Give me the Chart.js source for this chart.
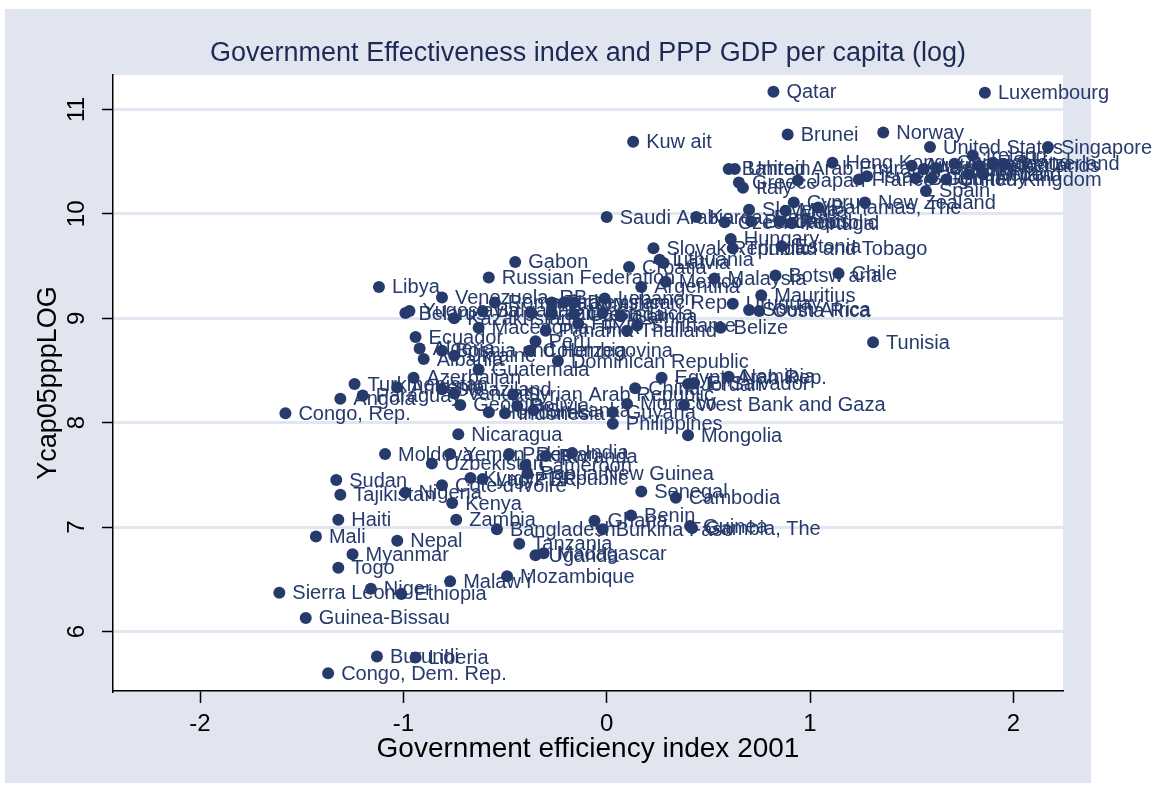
<!doctype html>
<html>
<head>
<title>Government Effectiveness index and PPP GDP per capita</title>
<style>
  html, body { margin: 0; padding: 0; background: #fff; }
</style>
</head>
<body>
<canvas id="myChart" width="1154" height="791"></canvas>
<script src="https://cdn.jsdelivr.net/npm/chart.js"></script>
<script>
// country labels, government efficiency index 2001 (x), log PPP GDP per capita 2005 (y)
const countries = [
  'Qatar', 'Luxembourg', 'Brunei', 'Norway', 'Kuw ait', 'United States', 'Singapore',
  'Hong Kong, China', 'Ireland', 'Canada', 'Iceland', 'Switzerland', 'Netherlands', 'Denmark',
  'Australia', 'Austria', 'Finland', 'Sweden', 'Belgium', 'Germany', 'United Kingdom',
  'France', 'Israel', 'Japan', 'Bahrain', 'United Arab Emirates', 'Greece', 'Italy',
  'Spain', 'Cyprus', 'New Zealand', 'Slovenia', 'Malta', 'Bahamas, The', 'Saudi Arabia',
  'Korea, Rep.', 'Czech Republic', 'Barbados', 'Oman', 'Portugal', 'Hungary', 'Estonia',
  'Slovak Republic', 'Trinidad and Tobago', 'Gabon', 'Croatia', 'Lithuania', 'Latvia',
  'Russian Federation', 'Chile', 'Botsw ana', 'Malaysia', 'Mexico', 'Argentina', 'Libya',
  'Venezuela, RB', 'Mauritius', 'Uruguay', 'South Africa', 'Costa Rica', 'Belize', 'Tunisia',
  'Lebanon', 'Belarus', 'Yugoslavia', 'Kazakhstan', 'Bulgaria', 'Romania', 'Brazil',
  'Turkey', 'Iran, Islamic Rep.', 'Dominica', 'Grenada', 'St. Lucia', 'Samoa', 'Jamaica',
  'Fiji', 'Panama', 'Macedonia, FYR', 'Thailand', 'Suriname', 'Peru', 'Ecuador', 'Algeria',
  'Bosnia and Herzegovina', 'Colombia', 'Albania', 'Ukraine', 'Dominican Republic',
  'Guatemala', 'Azerbaijan', 'Egypt, Arab Rep.', 'Namibia', 'Jordan', 'El Salvador', 'China',
  'Turkmenistan', 'Armenia', 'Sw aziland', 'Vanuatu', 'Syrian Arab Republic', 'Angola',
  'Paraguay', 'Congo, Rep.', 'Georgia', 'Bolivia', 'Sri Lanka', 'Indonesia', 'Honduras',
  'Morocco', 'West Bank and Gaza', 'Guyana', 'Philippines', 'Mongolia', 'Nicaragua',
  'Moldova', 'Yemen, Rep.', 'Pakistan', 'Rw anda', 'India', 'Uzbekistan', 'Cameroon',
  'Papua New Guinea', 'Kyrgyz Republic', 'Lao PDR', "Cote d'Ivoire", 'Nigeria', 'Sudan',
  'Tajikistan', 'Kenya', 'Zambia', 'Haiti', 'Mali', 'Nepal', 'Myanmar', 'Togo',
  'Sierra Leone', 'Niger', 'Ethiopia', 'Guinea-Bissau', 'Burundi', 'Liberia',
  'Congo, Dem. Rep.', 'Malaw i', 'Mozambique', 'Madagascar', 'Uganda', 'Tanzania',
  'Bangladesh', 'Ghana', 'Benin', 'Burkina Faso', 'Guinea', 'Gambia, The', 'Senegal', 'Cambodia'
];

const govEff = [
  0.82, 1.86, 0.89, 1.36, 0.13, 1.59, 2.17,
  1.11, 1.80, 1.71, 1.90, 1.95, 1.83, 1.62,
  1.56, 1.50, 1.85, 1.78, 1.52, 1.60, 1.67,
  1.24, 1.28, 0.94, 0.60, 0.63, 0.65, 0.67,
  1.57, 0.92, 1.27, 0.70, 0.88, 1.04, 0.00,
  0.44, 0.58, 0.71, 0.85, 0.91, 0.61, 0.86,
  0.23, 0.62, -0.45, 0.11, 0.26, 0.28,
  -0.58, 1.14, 0.83, 0.53, 0.29, 0.17, -1.12,
  -0.81, 0.76, 0.62, 0.70, 0.75, 0.56, 1.31,
  -0.01, -0.99, -0.97, -0.75, -0.61, -0.55, -0.37,
  -0.27, -0.21, -0.16, -0.16, -0.02, 0.07, -0.27,
  -0.14, -0.30, -0.63, 0.10, 0.15, -0.35, -0.94, -0.92,
  -0.81, -0.38, -0.90, -0.75, -0.24,
  -0.63, -0.95, 0.27, 0.60, 0.40, 0.43, 0.14,
  -1.24, -1.03, -0.81, -0.75, -0.46, -1.31,
  -1.20, -1.58, -0.72, -0.44, -0.36, -0.50, -0.58,
  0.10, 0.38, 0.03, 0.03, 0.40, -0.73,
  -1.09, -0.77, -0.48, -0.30, -0.17, -0.86, -0.40,
  -0.39, -0.67, -0.61, -0.81, -0.99, -1.33,
  -1.31, -0.76, -0.74, -1.32, -1.43, -1.03, -1.25, -1.32,
  -1.61, -1.16, -1.01, -1.48, -1.13, -0.94,
  -1.37, -0.77, -0.49, -0.31, -0.35, -0.43,
  -0.54, -0.06, 0.12, -0.02, 0.41, 0.42, 0.17, 0.34
];

const gdpLog = [
  11.17, 11.16, 10.76, 10.78, 10.69, 10.64, 10.64,
  10.49, 10.56, 10.48, 10.49, 10.48, 10.46, 10.44,
  10.43, 10.46, 10.38, 10.38, 10.34, 10.34, 10.33,
  10.33, 10.36, 10.32, 10.43, 10.43, 10.30, 10.25,
  10.22, 10.11, 10.11, 10.04, 10.03, 10.06, 9.97,
  9.97, 9.92, 9.93, 9.93, 9.91, 9.76, 9.69,
  9.67, 9.67, 9.54, 9.49, 9.56, 9.53,
  9.39, 9.43, 9.41, 9.38, 9.35, 9.30, 9.30,
  9.20, 9.22, 9.14, 9.08, 9.07, 8.91, 8.77,
  9.19, 9.05, 9.07, 9.00, 9.07, 9.15, 9.05,
  9.15, 9.15, 9.15, 9.04, 9.05, 9.02, 9.05,
  8.95, 8.88, 8.91, 8.88, 8.93, 8.78, 8.82, 8.71,
  8.69, 8.69, 8.61, 8.64, 8.59,
  8.51, 8.43, 8.43, 8.44, 8.37, 8.38, 8.33,
  8.37, 8.34, 8.32, 8.28, 8.27, 8.23,
  8.26, 8.09, 8.17, 8.16, 8.12, 8.09, 8.10,
  8.18, 8.17, 8.10, 7.99, 7.88, 7.89,
  7.70, 7.70, 7.70, 7.68, 7.71, 7.61, 7.59,
  7.51, 7.47, 7.46, 7.40, 7.33, 7.45,
  7.31, 7.23, 7.07, 7.07, 6.91, 6.87, 6.74, 6.61,
  6.37, 6.41, 6.36, 6.13, 5.76, 5.75,
  5.60, 6.48, 6.53, 6.75, 6.73, 6.84,
  6.98, 7.06, 7.11, 6.98, 7.01, 6.99, 7.34, 7.28
];

const xTicks = [-2, -1, 0, 1, 2];
const yTicks = [6, 7, 8, 9, 10, 11];

const FONT = '"Liberation Sans", Arial, Helvetica, sans-serif';
const NAVY = '#263a6b';

const points = govEff.map((v, i) => ({x: v, y: gdpLog[i]}));

// grey outer box, white plot region, title, vertical y tick labels
const backdrop = {
  id: 'backdrop',
  beforeDraw(chart) {
    const {ctx, chartArea: a} = chart;
    ctx.save();
    ctx.fillStyle = '#fff';
    ctx.fillRect(0, 0, chart.width, chart.height);
    ctx.fillStyle = '#e0e5ef';
    ctx.fillRect(5, 9, 1086, 774);
    ctx.fillStyle = '#fff';
    ctx.fillRect(a.left, a.top, a.right - a.left, a.bottom - a.top);
    ctx.restore();
  },
  afterDraw(chart) {
    const {ctx, chartArea: a} = chart;
    const yScale = chart.scales.y;
    ctx.save();
    ctx.font = '27px ' + FONT;
    ctx.fillStyle = '#1c2a55';
    ctx.textAlign = 'center';
    ctx.textBaseline = 'middle';
    ctx.fillText('Government Effectiveness index and PPP GDP per capita (log)', (a.left + a.right) / 2, 54);

    ctx.font = '24px ' + FONT;
    ctx.fillStyle = '#000';
    yTicks.forEach(v => {
      ctx.save();
      ctx.translate(77, yScale.getPixelForValue(v));
      ctx.rotate(-Math.PI / 2);
      ctx.fillText(String(v), 0, 0);
      ctx.restore();
    });
    ctx.restore();
  }
};

// marker labels at 3 o'clock
const pointLabels = {
  id: 'pointLabels',
  afterDatasetsDraw(chart) {
    const ctx = chart.ctx;
    const meta = chart.getDatasetMeta(0);
    ctx.save();
    ctx.font = '20px ' + FONT;
    ctx.fillStyle = NAVY;
    ctx.textBaseline = 'middle';
    meta.data.forEach((pt, i) => {
      ctx.fillText(countries[i], pt.x + 13, pt.y + 1);
    });
    ctx.restore();
  }
};

const ctx = document.getElementById('myChart');
const chart = new Chart(ctx, {
  type: 'scatter',
  data: {
    datasets: [{
      data: points,
      pointRadius: 6,
      pointHoverRadius: 6,
      backgroundColor: NAVY,
      borderWidth: 0
    }]
  },
  options: {
    responsive: false,
    animation: false,
    devicePixelRatio: 1,
    layout: { padding: { left: 0, right: 91, top: 75, bottom: 0 } },
    plugins: {
      legend: { display: false },
      tooltip: { enabled: false },
      title: { display: false }
    },
    scales: {
      x: {
        type: 'linear',
        min: -2.428,
        max: 2.244,
        afterFit: (s) => { s.height = 100; },
        afterBuildTicks: (s) => { s.ticks = xTicks.map(v => ({value: v})); },
        ticks: { color: '#000', font: { family: FONT, size: 24 }, padding: 7 },
        grid: { drawOnChartArea: false, tickColor: '#000', tickLength: 12, tickWidth: 1.5 },
        border: { color: '#000', width: 1.5 },
        title: {
          display: true, text: 'Government efficiency index 2001', color: '#000',
          font: { family: FONT, size: 28 }, padding: { top: 0, bottom: 25 }
        }
      },
      y: {
        type: 'linear',
        min: 5.43,
        max: 11.33,
        afterFit: (s) => { s.width = 113; },
        afterBuildTicks: (s) => { s.ticks = yTicks.map(v => ({value: v})); },
        ticks: { display: false },
        grid: { color: '#e1e6f0', lineWidth: 3, tickColor: '#000', tickLength: 11, tickWidth: 1.5 },
        border: { color: '#000', width: 1.5 },
        title: {
          display: true, text: 'Ycap05pppLOG', color: '#000',
          font: { family: FONT, size: 27 }, padding: { top: 32, bottom: 0 }
        }
      }
    }
  },
  plugins: [backdrop, pointLabels]
});
</script>
</body>
</html>
